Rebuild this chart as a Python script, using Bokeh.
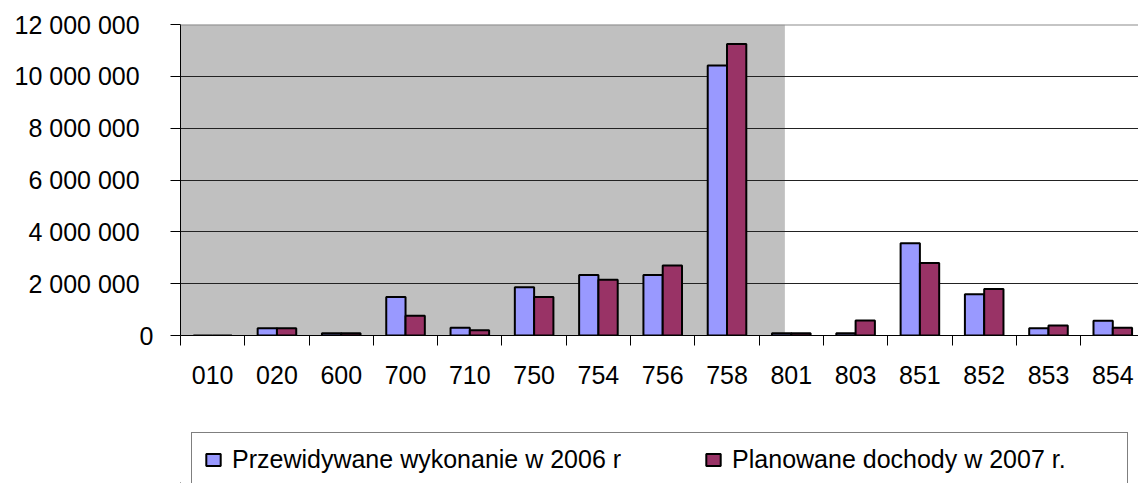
from bokeh.plotting import figure
from bokeh.layouts import column
from bokeh.models import (ColumnDataSource, Range1d, FixedTicker, BoxAnnotation, Span,
                          Legend, LegendItem)
from bokeh.transform import dodge
from bokeh.embed import file_html
from bokeh.resources import INLINE

categories = ["010", "020", "600", "700", "710", "750", "754", "756", "758",
              "801", "803", "851", "852", "853", "854"]
wykonanie_2006 = [0, 280000, 90000, 1490000, 300000, 1860000, 2330000, 2330000,
                  10420000, 90000, 90000, 3560000, 1590000, 280000, 570000]
dochody_2007 = [0, 280000, 90000, 760000, 200000, 1490000, 2150000, 2700000,
                11250000, 90000, 580000, 2800000, 1790000, 390000, 300000]
y_ticks = [0, 2000000, 4000000, 6000000, 8000000, 10000000, 12000000]
y_tick_labels = ["0", "2 000 000", "4 000 000", "6 000 000", "8 000 000",
                 "10 000 000", "12 000 000"]
series_names = ["Przewidywane wykonanie w 2006 r", "Planowane dochody w 2007 r."]

FONT = "Liberation Sans"
BLUE = "#9999FF"
PLUM = "#993366"

xs = list(range(len(categories)))
src = ColumnDataSource(dict(x=xs, a=wykonanie_2006, b=dochody_2007))

p = figure(width=1138, height=400, output_backend="svg", toolbar_location=None,
           x_range=Range1d(-0.5, 14.40), y_range=Range1d(0, 12000000),
           min_border_left=180, min_border_right=0, min_border_top=24,
           min_border_bottom=65)
p.outline_line_color = None
p.background_fill_color = "white"
p.border_fill_color = "white"

# partial gray plot-area background
p.add_layout(BoxAnnotation(left=-0.5, right=8.9, bottom=0, top=12000000,
                           fill_color="#C0C0C0", fill_alpha=1.0, line_color=None,
                           level="image"))

bw = 0.30
bar_style_a = dict(fill_color=BLUE, line_color="black", line_width=2)
bar_style_b = dict(fill_color=PLUM, line_color="black", line_width=2)
p.vbar(x=dodge("x", -bw / 2, range=p.x_range), top="a", width=bw, source=src, **bar_style_a)
p.vbar(x=dodge("x", bw / 2, range=p.x_range), top="b", width=bw, source=src, **bar_style_b)

p.add_layout(Span(location=12000000, dimension="width", line_color="#8C8C8C",
                  line_width=2))

# x axis
xa = p.xaxis[0]
xa.ticker = FixedTicker(ticks=xs, minor_ticks=[i - 0.5 for i in xs] + [len(xs) - 0.5])
xa.major_label_overrides = {i: c for i, c in zip(xs, categories)}
xa.major_tick_out = 10
xa.major_tick_in = 0
xa.major_tick_line_color = None
xa.minor_tick_out = 10
xa.minor_tick_in = 0
xa.minor_tick_line_color = "black"
xa.axis_line_color = "black"
xa.major_label_text_font = FONT
xa.major_label_text_font_size = "25px"
xa.major_label_text_color = "black"
xa.major_label_standoff = 20

# y axis
ya = p.yaxis[0]
ya.ticker = FixedTicker(ticks=y_ticks, minor_ticks=[])
ya.major_label_overrides = {t: (l if t == 0 else l + "\u00a0\u00a0")
                            for t, l in zip(y_ticks, y_tick_labels)}
ya.major_tick_out = 10
ya.major_tick_in = 0
ya.major_tick_line_color = "black"
ya.axis_line_color = "black"
ya.major_label_text_font = FONT
ya.major_label_text_font_size = "25px"
ya.major_label_text_color = "black"
ya.major_label_standoff = 17

p.xgrid.grid_line_color = None
p.ygrid.ticker = FixedTicker(ticks=y_ticks)
p.ygrid.grid_line_color = "#222222"
p.ygrid.grid_line_width = 1

# legend strip under the chart (its frame is aligned with the chart's frame)
lp = figure(width=1138, height=83, output_backend="svg", toolbar_location=None,
            x_range=Range1d(0, 1), y_range=Range1d(0, 1),
            x_axis_type=None, y_axis_type=None, min_border=0)
lp.outline_line_color = None
lp.grid.grid_line_color = None
# legend-only renderers: their single sample lies outside the visible range
proxy = ColumnDataSource(dict(x=[-10], top=[-10]))
l1 = lp.vbar(x="x", top="top", width=0.1, source=proxy, **bar_style_a)
l2 = lp.vbar(x="x", top="top", width=0.1, source=proxy, **bar_style_b)

legend = Legend(items=[LegendItem(label=series_names[0], renderers=[l1]),
                       LegendItem(label=series_names[1], renderers=[l2])],
                orientation="horizontal", location=(11, -4),
                label_text_font=FONT, label_text_font_size="25px",
                label_text_color="black", label_width=383, label_standoff=10,
                glyph_width=18, glyph_height=15, spacing=83, padding=12,
                border_line_color="black", border_line_width=1,
                background_fill_color="white", background_fill_alpha=1.0,
                margin=0)
lp.add_layout(legend, "center")

open("out.html", "w").write(file_html(column(p, lp, spacing=0), INLINE))
